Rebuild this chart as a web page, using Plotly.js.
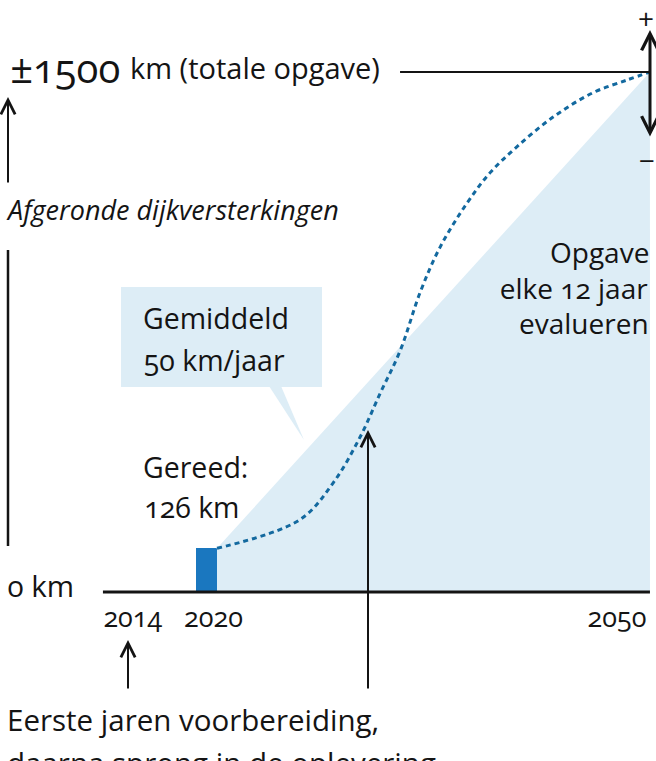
<!DOCTYPE html>
<html>
<head>
<meta charset="utf-8">
<script src="https://cdn.plot.ly/plotly-3.0.1.min.js"></script>
<style>
  html, body { margin: 0; padding: 0; background: #fff; }
  #chart { width: 656px; height: 761px; }
  .js-plotly-plot text { font-feature-settings: "onum" 1; }
</style>
</head>
<body>
<div id="chart"></div>
<script>
// ---- data ----
const tickYears = [2014, 2020, 2050];
const tickLabels = ['2014', '2020', '2050'];
const doneYear = [2019.48];
const doneKm = [126];
const totalKm = 1500;
const avgRate = 50;
const areaX = [2020.26, 2052.45, 2052.45, 2020.26];
const areaY = [126, 1500, 0, 0];
const curveX = [2020.26, 2026.4, 2028.9, 2030.9, 2032.4, 2033.9, 2035.35, 2036.85, 2038.85, 2040.55, 2042.55, 2045.25, 2048.2, 2050.75, 2052.45];
const curveY = [126, 208, 315, 447, 574, 698, 863, 995, 1122, 1209, 1284, 1370, 1440, 1477, 1500];
const baseX = [2011.78, 2052.45];
const baseY = [0, 0];
const totalX = [2033.87, 2052.45];
const totalY = [totalKm, totalKm];

// ---- layout helpers ----
const W = 656, H = 761;
const px = x => x / W;
const py = y => 1 - y / H;
const FONT = 'Open Sans, Noto Sans, sans-serif';
const INK = '#141414';
const LIGHT = '#ddedf6';

const traces = [
  { type: 'scatter', x: areaX, y: areaY, mode: 'lines', fill: 'toself', fillcolor: LIGHT,
    line: { width: 0, color: LIGHT }, hoverinfo: 'skip' },
  { type: 'bar', x: doneYear, y: doneKm, width: 1.56, marker: { color: '#1a77bf' }, hoverinfo: 'skip' },
  { type: 'scatter', x: curveX, y: curveY, mode: 'lines',
    line: { color: '#13699f', width: 3, dash: '5px,4px', shape: 'spline', smoothing: 1 }, hoverinfo: 'skip' },
  { type: 'scatter', x: baseX, y: baseY, mode: 'lines', line: { color: INK, width: 3 }, hoverinfo: 'skip' },
  { type: 'scatter', x: totalX, y: totalY, mode: 'lines', line: { color: INK, width: 2 }, hoverinfo: 'skip' }
];

function txt(text, x, y, size, anchor, extra) {
  return Object.assign({
    xref: 'paper', yref: 'paper', x: px(x), y: py(y), text: text, showarrow: false,
    xanchor: anchor || 'left', yanchor: 'middle',
    font: { family: FONT, size: size, color: INK }
  }, extra || {});
}
function arrow(x, yHead, yTail, extra) {
  return Object.assign({
    xref: 'paper', yref: 'paper', x: px(x), y: py(yHead), ax: 0, ay: yTail - yHead,
    text: '', showarrow: true, arrowhead: 5, arrowsize: 1.4, arrowwidth: 2, arrowcolor: INK, standoff: 0
  }, extra || {});
}

const annotations = [
  txt('±' + totalKm, 6, 68, 40),
  txt('km (totale opgave)', 128, 68, 29),
  txt('<i>Afgeronde dijkversterkingen</i>', 4, 210, 27),
  txt('0 km', 5, 585, 29.5),
  txt('Gemiddeld', 141, 318, 28.5),
  txt(avgRate + ' km/jaar', 141, 360, 28.5),
  txt('Gereed:', 141, 467, 28.5),
  txt(doneKm[0] + ' km', 141, 507, 28.5),
  txt('Opgave', 651, 252, 28, 'right'),
  txt('elke 12 jaar', 651, 288, 28, 'right'),
  txt('evalueren', 651, 323, 28, 'right'),
  txt('Eerste jaren voorbereiding,', 5, 719, 29.5),
  txt('daarna sprong in de oplevering', 5, 763, 29.5),
  txt('+', 655, 18, 28, 'right', { borderpad: 0 }),
  txt('−', 656, 160, 28, 'right', { borderpad: 0 }),
  arrow(8, 97, 184),
  arrow(128, 640, 690),
  arrow(368, 430, 690),
  arrow(650, 30, 138, { arrowside: 'end+start', startarrowhead: 5, arrowwidth: 3, arrowsize: 1.1, startarrowsize: 1.1 })
];

const shapes = [
  { type: 'rect', xref: 'paper', yref: 'paper', x0: px(121), x1: px(322), y0: py(387), y1: py(287),
    fillcolor: LIGHT, line: { width: 0 }, layer: 'below' },
  { type: 'path', xref: 'paper', yref: 'paper',
    path: `M ${px(269)},${py(386)} L ${px(281)},${py(386)} L ${px(304)},${py(440)} Z`,
    fillcolor: LIGHT, line: { width: 0 }, layer: 'below' },
  { type: 'line', xref: 'paper', yref: 'paper', x0: px(8), x1: px(8), y0: py(250), y1: py(546),
    line: { color: INK, width: 2.5 } }
];

const layout = {
  width: W, height: H,
  margin: { l: 0, r: 0, t: 0, b: 0 },
  paper_bgcolor: '#fff', plot_bgcolor: 'rgba(0,0,0,0)',
  showlegend: false,
  font: { family: FONT, color: INK },
  xaxis: {
    range: [2020 - 213.5 / 13.45, 2020 + (W - 213.5) / 13.45],
    domain: [0, 1], anchor: 'free', position: (H - 592) / H,
    tickvals: tickYears, ticktext: tickLabels,
    showgrid: false, zeroline: false, showline: false, ticks: '',
    tickfont: { family: FONT, size: 27, color: INK }, ticklabelstandoff: 7,
    fixedrange: true
  },
  yaxis: {
    range: [-(H - 592) * 1500 / 520, 1500 + 72 * 1500 / 520],
    domain: [0, 1], visible: false, fixedrange: true
  },
  annotations: annotations,
  shapes: shapes,
  bargap: 0
};

Plotly.newPlot('chart', traces, layout, { displayModeBar: false, staticPlot: true });
</script>
</body>
</html>
